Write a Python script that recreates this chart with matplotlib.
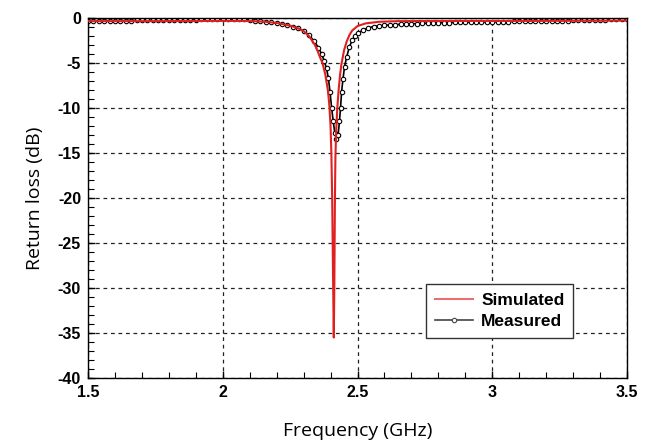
import matplotlib
matplotlib.use("Agg")
from matplotlib import pyplot as plt
from matplotlib.ticker import MultipleLocator

plt.rcParams['axes.unicode_minus'] = False

# simulated S11 (GHz, dB)
sim_f = [1.50, 1.60, 1.70, 1.80, 1.90, 2.00, 2.05, 2.10, 2.15, 2.20, 2.25, 2.28,
         2.30, 2.32, 2.34, 2.35, 2.36, 2.37, 2.38, 2.39, 2.395, 2.40, 2.403,
         2.406, 2.409, 2.412, 2.414, 2.416, 2.418, 2.421, 2.425, 2.43, 2.435,
         2.44, 2.45, 2.46, 2.47, 2.48, 2.50, 2.53, 2.58, 2.65, 2.80, 3.00,
         3.20, 3.40, 3.50]
sim_db = [-0.35, -0.35, -0.35, -0.34, -0.33, -0.32, -0.32, -0.34, -0.40, -0.55,
          -0.85, -1.15, -1.45, -2.0, -2.9, -3.5, -4.3, -5.0, -6.2, -8.0, -9.5,
          -12.0, -15.0, -20.0, -28.0, -35.5, -30.0, -21.0, -15.5, -12.5, -10.0,
          -8.0, -6.4, -5.2, -3.6, -2.6, -1.9, -1.4, -0.9, -0.6, -0.42, -0.35,
          -0.33, -0.33, -0.32, -0.30, -0.28]

# measured S11 (GHz, dB)
meas_f = [1.50, 1.52, 1.54, 1.56, 1.58, 1.60, 1.62, 1.64, 1.66, 1.68, 1.70, 1.72,
          1.74, 1.76, 1.78, 1.80, 1.82, 1.84, 1.86, 1.88, 1.90, 1.92, 1.94, 1.96,
          1.98, 2.00, 2.02, 2.04, 2.06, 2.08, 2.10, 2.12, 2.14, 2.16, 2.18, 2.20,
          2.22, 2.24, 2.26, 2.28, 2.30, 2.32, 2.34, 2.355, 2.367, 2.377, 2.385,
          2.392, 2.398, 2.404, 2.41, 2.416, 2.422, 2.428, 2.433, 2.437, 2.441,
          2.446, 2.452, 2.46, 2.47, 2.48, 2.49, 2.50, 2.52, 2.54, 2.56, 2.58,
          2.60, 2.62, 2.64, 2.66, 2.68, 2.70, 2.72, 2.74, 2.76, 2.78, 2.80, 2.82,
          2.84, 2.86, 2.88, 2.90, 2.92, 2.94, 2.96, 2.98, 3.00, 3.02, 3.04, 3.06,
          3.08, 3.10, 3.12, 3.14, 3.16, 3.18, 3.20, 3.22, 3.24, 3.26, 3.28, 3.30,
          3.32, 3.34, 3.36, 3.38, 3.40, 3.42, 3.44, 3.46, 3.48, 3.50]
meas_db = [-0.30, -0.32, -0.30, -0.28, -0.30, -0.33, -0.30, -0.28, -0.30, -0.27,
           -0.25, -0.27, -0.25, -0.22, -0.24, -0.22, -0.20, -0.22, -0.20, -0.18,
           -0.17, -0.15, -0.14, -0.13, -0.12, -0.12, -0.13, -0.14, -0.15, -0.16,
           -0.20, -0.28, -0.35, -0.42, -0.50, -0.58, -0.68, -0.80, -0.95, -1.15,
           -1.45, -1.9, -2.6, -3.3, -4.0, -4.8, -5.6, -6.7, -8.2, -10.0, -11.5,
           -12.8, -13.5, -13.0, -11.5, -10.0, -8.2, -6.8, -5.4, -4.3, -3.2, -2.5,
           -2.0, -1.7, -1.35, -1.1, -0.95, -0.88, -0.82, -0.78, -0.74, -0.70,
           -0.67, -0.64, -0.62, -0.60, -0.58, -0.56, -0.55, -0.53, -0.52, -0.50,
           -0.48, -0.47, -0.46, -0.45, -0.44, -0.43, -0.42, -0.41, -0.40, -0.39,
           -0.38, -0.37, -0.36, -0.35, -0.34, -0.33, -0.32, -0.31, -0.30, -0.29,
           -0.28, -0.26, -0.25, -0.24, -0.22, -0.20, -0.19, -0.17, -0.15, -0.13,
           -0.11, -0.10]

x_ticks = [1.5, 2, 2.5, 3, 3.5]
x_labels = ["1.5", "2", "2.5", "3", "3.5"]
y_ticks = [0, -5, -10, -15, -20, -25, -30, -35, -40]

fig = plt.figure(figsize=(6.52, 4.48), dpi=100)
ax = fig.add_axes([88 / 652, 1 - 378 / 448, 539 / 652, 360 / 448])

ax.plot(sim_f, sim_db, color='#e02020', linewidth=1.5, label="Simulated", zorder=3)
ax.plot(meas_f, meas_db, color='black', linewidth=1.2, marker='o', markersize=3.2,
        markerfacecolor='white', markeredgewidth=0.8, label="Measured", zorder=2)

ax.set_xlim(1.5, 3.5)
ax.set_ylim(-40, 0)
ax.set_xticks(x_ticks)
ax.set_xticklabels(x_labels)
ax.set_yticks(y_ticks)
ax.xaxis.set_minor_locator(MultipleLocator(0.1))
ax.yaxis.set_minor_locator(MultipleLocator(1))
ax.tick_params(which='both', direction='in', top=False, right=False)
ax.tick_params(which='major', length=5, width=1, pad=5)
ax.tick_params(which='minor', length=4, width=0.8)
for lab in ax.get_xticklabels() + ax.get_yticklabels():
    lab.set_fontfamily('Liberation Sans')
    lab.set_fontweight('bold')
    lab.set_fontsize(11.5)
ax.grid(which='major', color='#222222', linestyle=(0, (3, 3)), linewidth=0.9)
for s in ax.spines.values():
    s.set_linewidth(1.0)

ax.set_xlabel("Frequency (GHz)", fontsize=14, fontfamily='Open Sans', labelpad=16)
ax.set_ylabel("Return loss (dB)", fontsize=14, fontfamily='Open Sans', labelpad=10)

leg = ax.legend(loc='lower right', bbox_to_anchor=(573 / 652, 1 - 338 / 448),
                bbox_transform=fig.transFigure, fancybox=False, framealpha=1,
                borderaxespad=0, edgecolor='#333333',
                prop={'family': 'Liberation Sans', 'weight': 'bold', 'size': 12.5},
                handlelength=2.2, borderpad=0.5, labelspacing=0.35, handletextpad=0.45)
leg.get_frame().set_linewidth(1.0)
leg.get_lines()[0].set_color('#e87070')
leg.get_lines()[1].set_color('#444444')

fig.savefig("out.png", dpi=100)
